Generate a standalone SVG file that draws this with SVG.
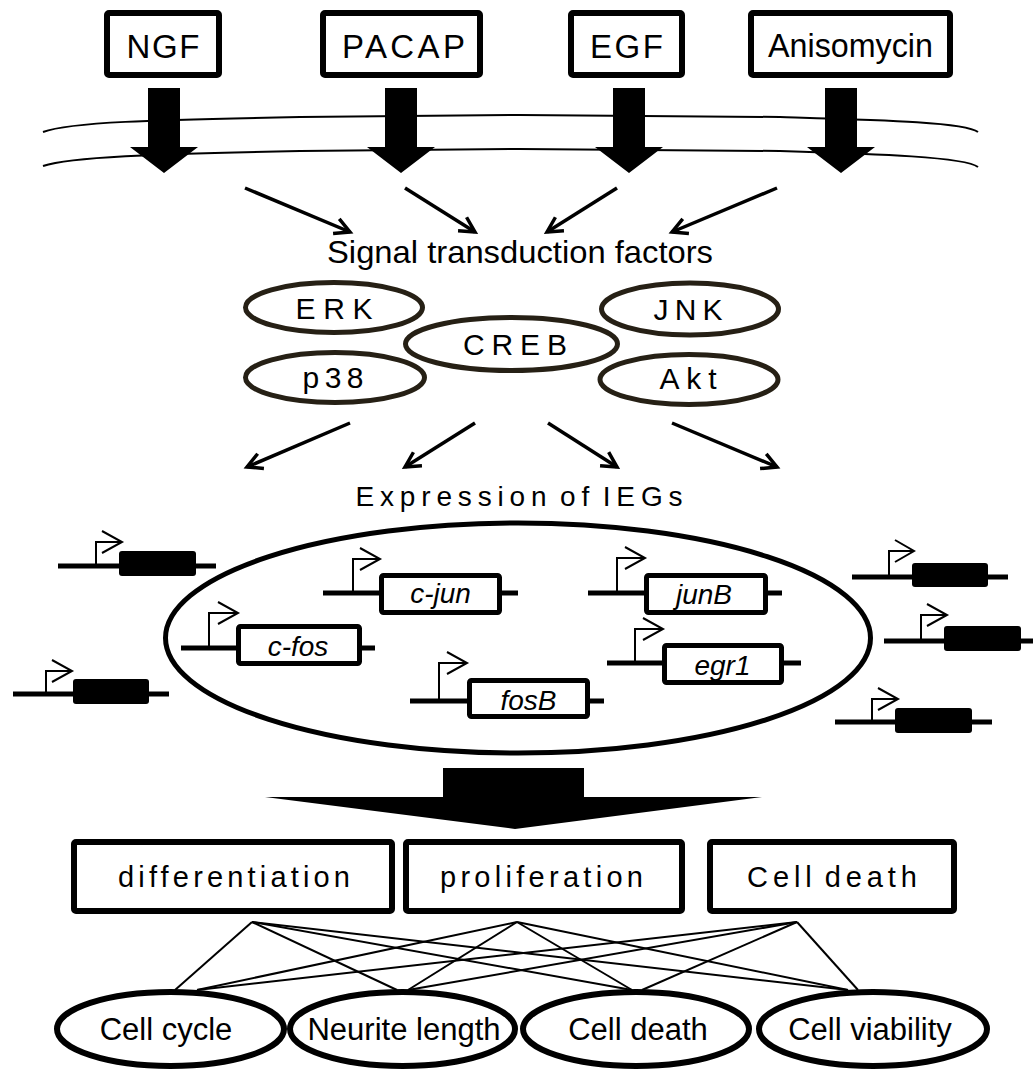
<svg xmlns="http://www.w3.org/2000/svg" width="1035" height="1071" viewBox="0 0 1035 1071">
<defs>
<style>
text { font-family: "Liberation Sans", Arial, sans-serif; fill:#000; }
.box { fill:#fff; stroke:#000; stroke-width:6; }
.lbl { font-size:33px; text-anchor:middle; }
.big { fill:#000; }
.mem { fill:none; stroke:#000; stroke-width:2; }
.thin { fill:none; stroke:#000; stroke-width:3.5; marker-end:url(#ah); }
.fac { fill:#fff; stroke:#262015; stroke-width:5; }
.fact { font-size:30px; text-anchor:middle; }
.dna { stroke:#000; stroke-width:5; }
.prom { fill:none; stroke:#000; stroke-width:2; }
.gbox { fill:#fff; stroke:#000; stroke-width:5; }
.gblk { fill:#000; }
.gt { font-size:28px; font-style:italic; text-anchor:middle; }
.out { fill:#fff; stroke:#000; stroke-width:6; }
.link { stroke:#000; stroke-width:2; }
.oval { fill:#fff; stroke:#000; stroke-width:6; }
.ot { font-size:31px; text-anchor:middle; }
.bt { font-size:29px; text-anchor:middle; }
</style>
<marker id="ah" markerUnits="userSpaceOnUse" viewBox="0 0 20 20" refX="17" refY="10" markerWidth="20" markerHeight="20" orient="auto" overflow="visible">
<path d="M2,2 L17,10 L2,18" fill="none" stroke="#000" stroke-width="3.5"/>
</marker>
</defs>
<rect width="1035" height="1071" fill="#fff"/>

<g id="membrane">
<path class="mem" d="M43,132 C70,122 150,120 300,117 L520,115 L780,117 C880,120 965,122 978,132"/>
<path class="mem" d="M43,166 C70,157 150,154 300,151 L520,149 L780,151 C880,154 965,157 978,167"/>
</g>

<g id="connectors">
<polygon class="big" points="148,88 180,88 180,147 198,147 164,173 130,147 148,147"/>
<polygon class="big" points="385,88 417,88 417,147 435,147 401,173 367,147 385,147"/>
<polygon class="big" points="613,88 645,88 645,147 663,147 629,173 595,147 613,147"/>
<polygon class="big" points="825,88 857,88 857,147 875,147 841,173 807,147 825,147"/>
<line class="thin" x1="245" y1="188" x2="350" y2="232"/>
<line class="thin" x1="405" y1="188" x2="475" y2="232"/>
<line class="thin" x1="617" y1="188" x2="547" y2="232"/>
<line class="thin" x1="777" y1="188" x2="672" y2="232"/>
<line class="thin" x1="350" y1="423" x2="247" y2="467"/>
<line class="thin" x1="475" y1="423" x2="405" y2="467"/>
<line class="thin" x1="548" y1="423" x2="617" y2="467"/>
<line class="thin" x1="672" y1="423" x2="777" y2="467"/>
<polygon class="big" points="265,797 443,797 443,768 584,768 584,797 762,797 515,829"/>
<line class="link" x1="252" y1="922" x2="175" y2="990"/>
<line class="link" x1="252" y1="922" x2="397" y2="990"/>
<line class="link" x1="252" y1="922" x2="632" y2="990"/>
<line class="link" x1="252" y1="922" x2="848" y2="990"/>
<line class="link" x1="517" y1="922" x2="197" y2="990"/>
<line class="link" x1="517" y1="922" x2="408" y2="990"/>
<line class="link" x1="517" y1="922" x2="632" y2="990"/>
<line class="link" x1="517" y1="922" x2="848" y2="990"/>
<line class="link" x1="797" y1="922" x2="197" y2="990"/>
<line class="link" x1="797" y1="922" x2="408" y2="990"/>
<line class="link" x1="797" y1="922" x2="642" y2="990"/>
<line class="link" x1="797" y1="922" x2="858" y2="990"/>
</g>

<g id="ngf"><rect class="box" x="107" y="13" width="112" height="62" rx="2"/><text class="lbl" x="163" y="58" textLength="73" lengthAdjust="spacing">NGF</text></g>
<g id="pacap"><rect class="box" x="323" y="13" width="157" height="62" rx="2"/><text class="lbl" x="403.5" y="58" textLength="123" lengthAdjust="spacing">PACAP</text></g>
<g id="egf"><rect class="box" x="571" y="13" width="111" height="62" rx="2"/><text class="lbl" x="626.5" y="58" textLength="73" lengthAdjust="spacing">EGF</text></g>
<g id="anisomycin"><rect class="box" x="751" y="13" width="199" height="62" rx="2"/><text class="lbl" x="850.5" y="57" font-size="32" textLength="165" lengthAdjust="spacingAndGlyphs">Anisomycin</text></g>

<g id="signal-label"><text x="520" y="263" font-size="32" text-anchor="middle" textLength="386" lengthAdjust="spacingAndGlyphs">Signal transduction factors</text></g>

<g id="erk"><ellipse class="fac" cx="334" cy="307.5" rx="88.5" ry="25"/><text class="fact" x="334" y="319" textLength="77" lengthAdjust="spacing">ERK</text></g>
<g id="p38"><ellipse class="fac" cx="335" cy="377.5" rx="89.5" ry="25"/><text class="fact" x="333" y="388" textLength="61" lengthAdjust="spacing">p38</text></g>
<g id="creb"><ellipse class="fac" cx="511.5" cy="344" rx="106" ry="26.5"/><text class="fact" x="515" y="355" textLength="104" lengthAdjust="spacing">CREB</text></g>
<g id="jnk"><ellipse class="fac" cx="690" cy="309" rx="88.5" ry="26"/><text class="fact" x="688" y="320" textLength="69" lengthAdjust="spacing">JNK</text></g>
<g id="akt"><ellipse class="fac" cx="689" cy="379.5" rx="89" ry="25"/><text class="fact" x="688" y="389" textLength="57" lengthAdjust="spacing">Akt</text></g>

<g id="ieg-label"><text x="519" y="506" font-size="28" text-anchor="middle" word-spacing="-6" textLength="327" lengthAdjust="spacing">Expression of IEGs</text></g>

<g id="nucleus"><ellipse cx="518" cy="638" rx="352.5" ry="115" fill="none" stroke="#000" stroke-width="5"/></g>

<g id="gene-out-1"><line class="dna" x1="58" y1="566" x2="216" y2="566"/><rect class="gblk" x="119" y="551" width="77" height="25" rx="3"/><path class="prom" d="M96,566 V542 H122 M102,531 L122,542 L102,553"/></g>
<g id="gene-out-2"><line class="dna" x1="13" y1="694" x2="169" y2="694"/><rect class="gblk" x="73" y="679" width="76" height="25" rx="3"/><path class="prom" d="M46,694 V671 H72 M52,660 L72,671 L52,682"/></g>
<g id="gene-out-3"><line class="dna" x1="852" y1="577" x2="1008" y2="577"/><rect class="gblk" x="912" y="563" width="76" height="24" rx="3"/><path class="prom" d="M889,577 V551 H914 M895,540 L914,551 L895,562"/></g>
<g id="gene-out-4"><line class="dna" x1="884" y1="641" x2="1033" y2="641"/><rect class="gblk" x="944" y="626" width="77" height="25" rx="3"/><path class="prom" d="M921,641 V615 H947 M927,604 L947,615 L927,626"/></g>
<g id="gene-out-5"><line class="dna" x1="835" y1="722" x2="992" y2="722"/><rect class="gblk" x="895" y="708" width="77" height="25" rx="3"/><path class="prom" d="M872,722 V699 H898 M878,688 L898,699 L878,710"/></g>

<g id="c-fos"><line class="dna" x1="181" y1="648" x2="375" y2="648"/><path class="prom" d="M209,648 V613 H238 M218,602 L238,613 L218,624"/><rect class="gbox" x="238.5" y="626.5" width="121" height="37" rx="2"/><text class="gt" x="298" y="656">c-fos</text></g>
<g id="c-jun"><line class="dna" x1="323" y1="593" x2="518" y2="593"/><path class="prom" d="M353,593 V559 H380 M360,548 L380,559 L360,570"/><rect class="gbox" x="381.5" y="575.5" width="118" height="37" rx="2"/><text class="gt" x="440.5" y="603">c-jun</text></g>
<g id="fosb"><line class="dna" x1="410" y1="701" x2="604" y2="701"/><path class="prom" d="M439,701 V663 H467 M447,652 L467,663 L447,674"/><rect class="gbox" x="469.5" y="680.5" width="118" height="36" rx="2"/><text class="gt" x="528.5" y="710">fosB</text></g>
<g id="junb"><line class="dna" x1="588" y1="593" x2="782" y2="593"/><path class="prom" d="M617,593 V558 H645 M625,547 L645,558 L625,569"/><rect class="gbox" x="646.5" y="575.5" width="119" height="37" rx="2"/><text class="gt" x="704" y="604">junB</text></g>
<g id="egr1"><line class="dna" x1="607" y1="663" x2="801" y2="663"/><path class="prom" d="M635,663 V629 H663 M643,618 L663,629 L643,640"/><rect class="gbox" x="664.5" y="645.5" width="117" height="37" rx="2"/><text class="gt" x="722.5" y="675">egr1</text></g>

<g id="differentiation"><rect class="out" x="74" y="842" width="318" height="69" rx="2"/><text class="bt" x="234" y="887" textLength="232" lengthAdjust="spacing">differentiation</text></g>
<g id="proliferation"><rect class="out" x="406" y="842" width="276" height="69" rx="2"/><text class="bt" x="541.5" y="887" textLength="203" lengthAdjust="spacing">proliferation</text></g>
<g id="cell-death-box"><rect class="out" x="710" y="842" width="244" height="69" rx="2"/><text class="bt" x="832" y="887" word-spacing="-5" textLength="170" lengthAdjust="spacing">Cell death</text></g>

<g id="cell-cycle"><ellipse class="oval" cx="170.5" cy="1029" rx="113.5" ry="37"/><text class="ot" x="166" y="1040">Cell cycle</text></g>
<g id="neurite-length"><ellipse class="oval" cx="402.5" cy="1029" rx="112.5" ry="37"/><text class="ot" x="404" y="1040">Neurite length</text></g>
<g id="cell-death"><ellipse class="oval" cx="636" cy="1029" rx="113" ry="37"/><text class="ot" x="638" y="1040">Cell death</text></g>
<g id="cell-viability"><ellipse class="oval" cx="873" cy="1029" rx="114" ry="37"/><text class="ot" x="870" y="1040">Cell viability</text></g>
</svg>
